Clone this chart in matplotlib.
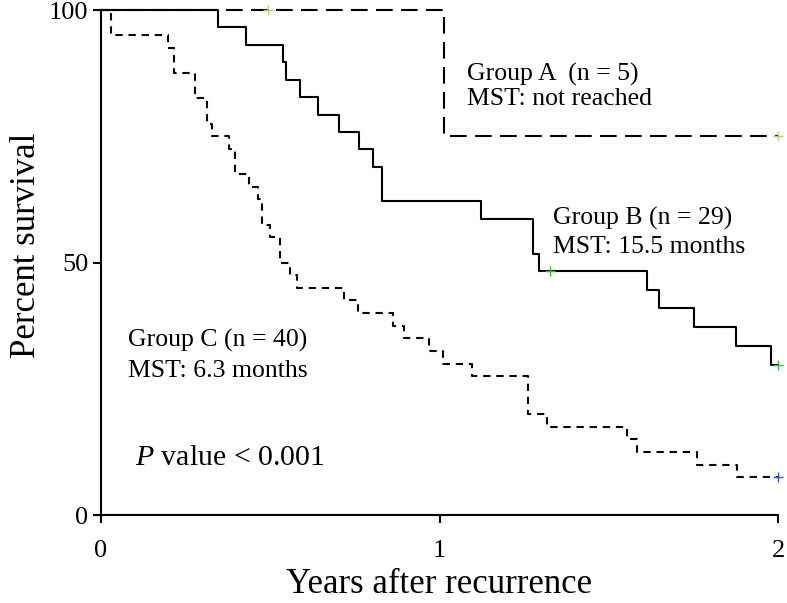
import matplotlib
matplotlib.use("Agg")
import matplotlib.pyplot as plt

plt.rcParams['font.family'] = ['Liberation Serif', 'DejaVu Serif']
plt.rcParams['mathtext.fontset'] = 'custom'
plt.rcParams['mathtext.rm'] = 'Liberation Serif'
plt.rcParams['mathtext.it'] = 'Liberation Serif:italic'

# Kaplan-Meier steps (years, percent)
times_a = [0, 1.013, 2.0]
surv_a = [100, 75, 75]
cens_a_t = [0.493, 2.0]
cens_a_s = [100, 75]

times_b = [0, 0.347, 0.428, 0.539, 0.547, 0.588, 0.640, 0.704, 0.763, 0.805,
           0.830, 1.122, 1.275, 1.294, 1.612, 1.647, 1.753, 1.876, 1.978, 2.0]
surv_b = [100, 96.6, 93.1, 89.7, 86.2, 82.8, 79.3, 75.9, 72.4, 69.0,
          62.1, 58.6, 51.7, 48.3, 44.6, 40.9, 37.2, 33.5, 29.8, 29.8]
cens_b_t = [1.326, 2.0]
cens_b_s = [48.3, 29.8]

times_c = [0, 0.03, 0.199, 0.216, 0.278, 0.312, 0.329, 0.379, 0.396, 0.438,
           0.465, 0.475, 0.499, 0.529, 0.558, 0.578, 0.718, 0.760, 0.862, 0.895,
           0.970, 1.011, 1.097, 1.262, 1.319, 1.553, 1.584, 1.760, 1.878, 2.0]
surv_c = [100, 95, 92.5, 87.5, 82.5, 77.5, 75, 72.5, 67.5, 65,
          62.5, 57.5, 55, 50, 47.5, 45, 42.5, 40, 37.5, 35,
          32.5, 30, 27.5, 20, 17.5, 15, 12.5, 10, 7.5, 7.5]
cens_c_t = [2.0]
cens_c_s = [7.5]

fig = plt.figure(figsize=(7.87, 6.03), dpi=100)
ax = fig.add_axes([0.1283, 0.1459, 0.8603, 0.8375])

lw = 1.5
ax.step(times_c, surv_c, where='post', color='black', lw=lw,
        linestyle=(0, (3.5, 2.8)), clip_on=False)
ax.step(times_a, surv_a, where='post', color='black', lw=lw,
        linestyle=(0, (8, 4)), clip_on=False)
ax.step(times_b, surv_b, where='post', color='black', lw=lw, clip_on=False)

ax.plot(cens_a_t, cens_a_s, '+', color='#c8c28a', ms=7, mew=1, clip_on=False)
ax.plot(cens_b_t, cens_b_s, '+', color='#33bb33', ms=7, mew=1, clip_on=False)
ax.plot(cens_c_t, cens_c_s, '+', color='#3355cc', ms=7, mew=1, clip_on=False)

ax.set_xlim(0, 2)
ax.set_ylim(0, 100)
ax.set_xticks([0, 1, 2])
ax.set_yticks([0, 50, 100])
ax.spines['top'].set_visible(False)
ax.spines['right'].set_visible(False)
for s in ('left', 'bottom'):
    ax.spines[s].set_linewidth(1.5)
ax.tick_params(direction='out', length=6, width=1.5, labelsize=19, pad=3)
ax.tick_params(axis='x', pad=12)

ax.set_xlabel('Years after recurrence', fontsize=25, labelpad=4)
ax.set_ylabel('Percent survival', fontsize=25)
ax.yaxis.set_label_coords(-0.086, 0.535)

ax.text(1.08, 86.1, 'Group A  (n = 5)', fontsize=18.5, va='baseline')
ax.text(1.08, 81.1, 'MST: not reached', fontsize=18.5, va='baseline')
ax.text(1.335, 57.5, 'Group B (n = 29)', fontsize=18.5, va='baseline')
ax.text(1.335, 51.8, 'MST: 15.5 months', fontsize=18.5, va='baseline')
ax.text(0.08, 33.3, 'Group C (n = 40)', fontsize=18.5, va='baseline')
ax.text(0.08, 27.4, 'MST: 6.3 months', fontsize=18.5, va='baseline')
ax.text(0.10, 9.9, r'$\mathit{P}$ value < 0.001', fontsize=21.5, va='baseline')

fig.savefig('out.png', dpi=100)
